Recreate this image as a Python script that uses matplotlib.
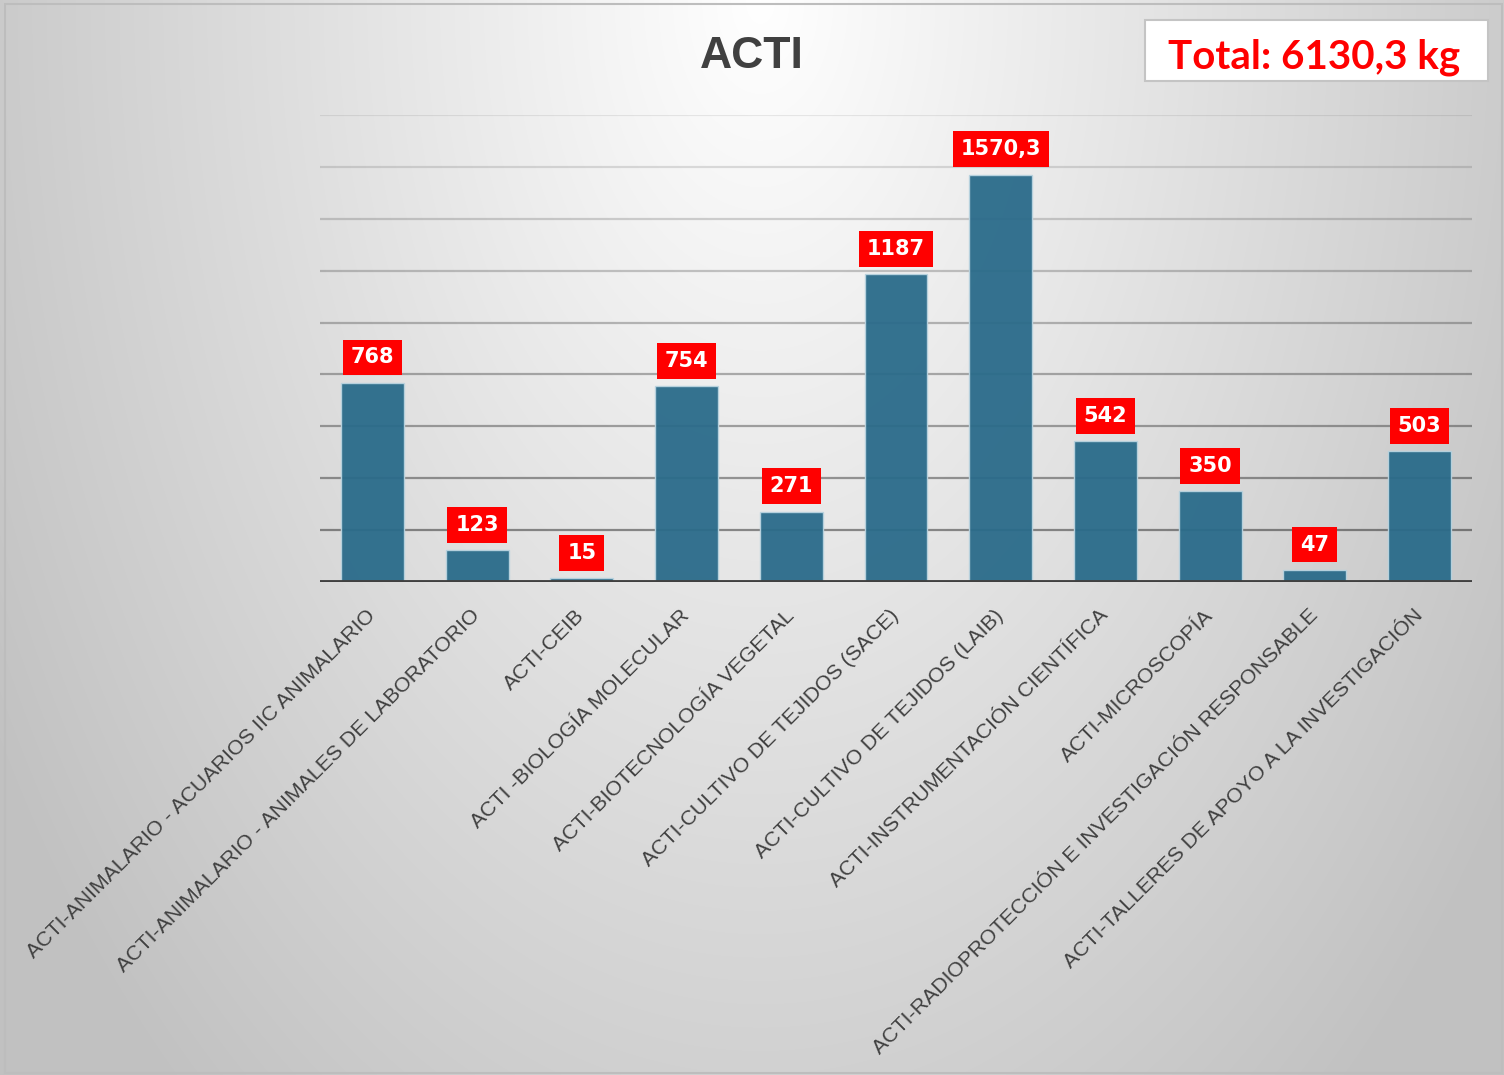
import numpy as np
import matplotlib
matplotlib.use("Agg")
import matplotlib.pyplot as plt
from matplotlib.patches import Rectangle

categories = [
    "ACTI-ANIMALARIO - ACUARIOS IIC ANIMALARIO",
    "ACTI-ANIMALARIO - ANIMALES DE LABORATORIO",
    "ACTI-CEIB",
    "ACTI -BIOLOGÍA MOLECULAR",
    "ACTI-BIOTECNOLOGÍA VEGETAL",
    "ACTI-CULTIVO DE TEJIDOS (SACE)",
    "ACTI-CULTIVO DE TEJIDOS (LAIB)",
    "ACTI-INSTRUMENTACIÓN CIENTÍFICA",
    "ACTI-MICROSCOPÍA",
    "ACTI-RADIOPROTECCIÓN E INVESTIGACIÓN RESPONSABLE",
    "ACTI-TALLERES DE APOYO A LA INVESTIGACIÓN",
]
values = [768, 123, 15, 754, 271, 1187, 1570.3, 542, 350, 47, 503]
title = "ACTI"
total_text = "Total: 6130,3 kg"

W, H = 1504, 1075
fig = plt.figure(figsize=(W / 100, H / 100), dpi=100)

# background gradient (light at top centre, grey towards corners)
bg = fig.add_axes([0, 0, 1, 1], zorder=-2)
yy, xx = np.mgrid[0:H, 0:W]
r = np.sqrt(((xx - 760) / 780.0) ** 2 + (yy / 1250.0) ** 2)
r = np.clip(r, 0, 1.15)
shade = 1.0 - 0.21 * r
bg.imshow(np.dstack([shade, shade, shade]), extent=[0, W, H, 0], aspect="auto", interpolation="bilinear")
bg.set_xlim(0, W)
bg.set_ylim(H, 0)
bg.axis("off")
bg.add_patch(Rectangle((5, 4), 1497, 1069, fill=False, edgecolor="#bdbdbd", linewidth=1.5))

ax = fig.add_axes([320 / W, 1 - 582 / H, 1152 / W, 467 / H])
ax.set_facecolor("none")
x = np.arange(len(values))
ax.set_xlim(-0.5, len(values) - 0.5)
ax.set_ylim(0, 1800)

# gridlines get darker towards the bottom
for g in range(200, 1801, 200):
    a = 0.42 - 0.34 * (g - 200) / 1600
    ax.axhline(g, color="black", alpha=a, linewidth=1.6, zorder=1)

bars = ax.bar(x, values, width=0.6, color="#2a6b8a", alpha=0.95,
              edgecolor="#b9d3df", linewidth=1.0, zorder=2)

for xi, v in zip(x, values):
    lab = f"{v:g}".replace(".", ",")
    ax.annotate(lab, (xi, v), xytext=(0, 11), textcoords="offset points",
                ha="center", va="bottom", color="white", fontsize=15,
                fontweight="bold", family="DejaVu Sans", zorder=5,
                bbox=dict(boxstyle="square,pad=0.38", facecolor="#ff0000", edgecolor="none"))

ax.axhline(0, color="#404040", linewidth=3.5, zorder=4)
for s in ax.spines.values():
    s.set_visible(False)
ax.set_yticks([])
ax.set_xticks(x)
ax.set_xticklabels(categories, rotation=45, ha="right", va="center",
                   rotation_mode="anchor", fontsize=15.3, color="#404040",
                   family="Liberation Sans")
ax.tick_params(axis="x", length=0, pad=22)

fig.text(752 / W, 1 - 57 / H, title, ha="center", va="center", fontsize=32,
         fontweight="bold", color="#404040", family="Liberation Sans")

fig.text(1314 / W, 1 - 57 / H, total_text, ha="center", va="center", fontsize=29,
         fontweight="bold", color="#ff0000", family="Lato")
bg.add_patch(Rectangle((1145, 20), 343, 61, facecolor="white", edgecolor="#c4c4c4", linewidth=1.5, zorder=3))

fig.savefig("out.png", dpi=100)
